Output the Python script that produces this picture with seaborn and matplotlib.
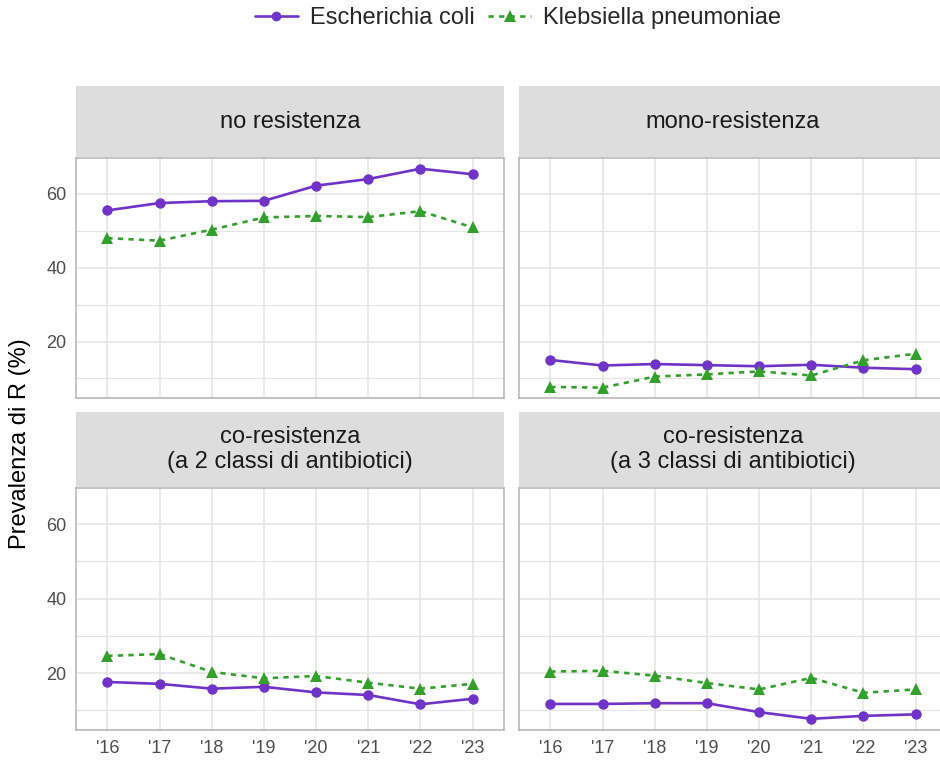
import matplotlib
matplotlib.use("Agg")
import matplotlib.pyplot as plt
from matplotlib.ticker import MultipleLocator
from matplotlib.lines import Line2D
import seaborn as sns
import pandas as pd

sns.set_theme(style="white")
plt.rcParams["font.family"] = ["Liberation Sans", "DejaVu Sans"]

anni = ["'16", "'17", "'18", "'19", "'20", "'21", "'22", "'23"]
specie = ["Escherichia coli", "Klebsiella pneumoniae"]
pannelli = [
    "no resistenza",
    "mono-resistenza",
    "co-resistenza\n(a 2 classi di antibiotici)",
    "co-resistenza\n(a 3 classi di antibiotici)",
]

ecoli_no = [55.5, 57.5, 58.0, 58.1, 62.2, 64.0, 66.8, 65.3]
kpn_no = [48.0, 47.3, 50.3, 53.6, 54.0, 53.7, 55.3, 50.9]
ecoli_mono = [15.0, 13.5, 13.9, 13.6, 13.3, 13.7, 12.9, 12.5]
kpn_mono = [7.7, 7.5, 10.5, 11.1, 11.9, 10.8, 14.9, 16.7]
ecoli_co2 = [17.6, 17.1, 15.8, 16.3, 14.8, 14.1, 11.6, 13.1]
kpn_co2 = [24.6, 25.1, 20.3, 18.6, 19.2, 17.4, 15.8, 17.1]
ecoli_co3 = [11.7, 11.7, 11.9, 11.9, 9.5, 7.7, 8.5, 8.9]
kpn_co3 = [20.4, 20.6, 19.3, 17.3, 15.6, 18.7, 14.7, 15.6]

serie = {
    pannelli[0]: (ecoli_no, kpn_no),
    pannelli[1]: (ecoli_mono, kpn_mono),
    pannelli[2]: (ecoli_co2, kpn_co2),
    pannelli[3]: (ecoli_co3, kpn_co3),
}

righe = []
for pannello, (ec, kp) in serie.items():
    for sp, valori in zip(specie, (ec, kp)):
        for i, (anno, v) in enumerate(zip(anni, valori)):
            righe.append({"pannello": pannello, "specie": sp, "pos": i,
                          "anno": anno, "valore": v})
df = pd.DataFrame(righe)

colori = {"Escherichia coli": "#6F33C8", "Klebsiella pneumoniae": "#33A02C"}
marcatori = {"Escherichia coli": "o", "Klebsiella pneumoniae": "^"}
tratti = {"Escherichia coli": "", "Klebsiella pneumoniae": (2, 2)}

W, H = 940, 768
fig = plt.figure(figsize=(W / 100, H / 100), dpi=100)

col_x = [76, 519]
pan_w = 428
righe_pan = [(158, 398, 86, 157), (488, 730, 412, 487)]

grid_c = "#E4E4E4"
bord_c = "#B3B3B3"

for k, pannello in enumerate(pannelli):
    r, c = divmod(k, 2)
    top, bot, s_top, s_bot = righe_pan[r]
    x0 = col_x[c]
    ax = fig.add_axes([x0 / W, 1 - bot / H, pan_w / W, (bot - top) / H])
    sub = df[df["pannello"] == pannello]
    sns.lineplot(data=sub, x="pos", y="valore", hue="specie", style="specie",
                 palette=colori, markers=marcatori, dashes=tratti,
                 markersize=7.5, markeredgewidth=0, linewidth=1.9,
                 legend=False, ax=ax)
    for ln in ax.lines:
        if ln.get_marker() == "^":
            ln.set_markersize(9)
    ax.set_xlim(-0.6, 7.6)
    ax.set_ylim(4.7, 69.7)
    ax.yaxis.set_major_locator(MultipleLocator(20))
    ax.yaxis.set_minor_locator(MultipleLocator(20, offset=10))
    ax.set_xticks(range(len(anni)))
    ax.grid(True, which="major", color=grid_c, linewidth=1.1)
    ax.grid(True, which="minor", axis="y", color=grid_c, linewidth=0.8)
    ax.set_axisbelow(True)
    ax.set_xlabel("")
    ax.set_ylabel("")
    for sp in ax.spines.values():
        sp.set_visible(True)
        sp.set_color(bord_c)
        sp.set_linewidth(1.1)
    ax.tick_params(axis="both", which="major", length=4, width=1.0,
                   color=bord_c, labelsize=13, labelcolor="#4D4D4D", pad=3)
    ax.tick_params(axis="y", which="minor", length=0)
    if r == 1:
        ax.set_xticklabels(anni)
    else:
        ax.tick_params(axis="x", length=0, labelbottom=False)
    if c == 1:
        ax.tick_params(axis="y", length=0, labelleft=False)

    sax = fig.add_axes([x0 / W, 1 - s_bot / H, pan_w / W, (s_bot - s_top) / H])
    sax.set_facecolor("#DDDDDD")
    sax.set_xticks([])
    sax.set_yticks([])
    for sp in sax.spines.values():
        sp.set_visible(False)
    sax.text(0.5, 0.5, pannello, ha="center", va="center", fontsize=17,
             color="#1A1A1A", linespacing=1.15, transform=sax.transAxes)

fig.text(20 / W, 1 - 444 / H, "Prevalenza di R (%)", rotation=90,
         ha="center", va="center", fontsize=17, color="#000000")

maniglie = [
    Line2D([], [], color=colori[s], marker=marcatori[s],
           linestyle="-" if s == specie[0] else (0, (2, 2)),
           linewidth=1.9, markersize=7 if s == specie[0] else 8,
           markeredgewidth=0)
    for s in specie
]
fig.legend(maniglie, specie, loc="center", bbox_to_anchor=(518 / W, 1 - 18 / H),
           ncol=2, frameon=False, fontsize=17, handlelength=1.8,
           handletextpad=0.5, columnspacing=0.6)

fig.savefig("out.png", dpi=100)
